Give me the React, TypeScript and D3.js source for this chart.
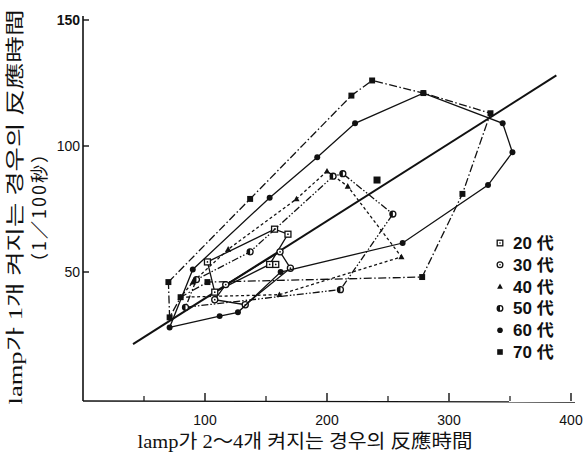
import React from 'react';
import * as d3 from 'd3';

const xTicksMajor = [100, 200, 300, 400];
const xTicksMinor = [50, 150, 250, 350];
const yTicks = [50, 100, 150];

const ages = ['20', '30', '40', '50', '60', '70'];
const ageSuffix = '代';

// 20代
const x20 = [108, 153, 168, 157, 102];
const y20 = [42, 53, 65, 67, 54];
// 30代
const x30 = [117, 161.5, 170, 133, 108];
const y30 = [45, 58, 51.5, 37, 39];
// 40代
const x40 = [80, 161, 261, 217, 200, 175, 119, 90];
const y40 = [40, 41, 56, 84, 90, 79, 59, 46];
// 50代
const x50 = [84, 211, 254, 213, 205, 137, 93];
const y50 = [36, 43, 73, 89, 88, 58, 47];
// 60代
const x60 = [71, 112, 127, 162, 262, 332, 352, 344, 279, 223, 192, 153, 90];
const y60 = [28, 32.5, 34, 50, 61.5, 84.5, 97.5, 109, 121, 109, 95.5, 79.5, 51];
// 70代
const x70 = [70, 137, 220, 237, 279, 334, 311, 278, 102, 80, 71];
const y70 = [46, 79, 120, 126, 121, 113, 81, 48, 46, 40, 32];
// isolated 70代 point and extra 20代 point
const isoX = [241];
const isoY = [86.5];
const extra20X = [158];
const extra20Y = [53];

// overall trend line
const regX = [41, 388];
const regY = [21.4, 128];

const seriesX = [x20, x30, x40, x50, x60, x70];
const seriesY = [y20, y30, y40, y50, y60, y70];
const markerKinds = ['sqDot', 'circDot', 'tri', 'half', 'circ', 'sq'];
const dashes = ['', '', '3,2.5', '7,2,1.5,2,1.5,2', '', '8,2.5,1.5,2.5'];

function Marker({ kind, cx, cy, s = 1 }: { kind: string; cx: number; cy: number; s?: number }) {
  const k = s;
  switch (kind) {
    case 'sqDot':
      return (
        <g>
          <rect x={cx - 3.5 * k} y={cy - 3.5 * k} width={7 * k} height={7 * k} fill="#fff" stroke="#111" strokeWidth={1.3} />
          <circle cx={cx} cy={cy} r={1 * k} fill="#111" />
        </g>
      );
    case 'circDot':
      return (
        <g>
          <circle cx={cx} cy={cy} r={3.6 * k} fill="#fff" stroke="#111" strokeWidth={1.3} />
          <circle cx={cx} cy={cy} r={1 * k} fill="#111" />
        </g>
      );
    case 'tri':
      return <path d={`M${cx},${cy - 3.8 * k}L${cx + 3.6 * k},${cy + 2.8 * k}L${cx - 3.6 * k},${cy + 2.8 * k}Z`} fill="#111" />;
    case 'half':
      return (
        <g>
          <circle cx={cx} cy={cy} r={3.5 * k} fill="#fff" stroke="#111" strokeWidth={1.3} />
          <path d={`M${cx},${cy - 3.5 * k}A${3.5 * k},${3.5 * k} 0 0 0 ${cx},${cy + 3.5 * k}Z`} fill="#111" />
        </g>
      );
    case 'circ':
      return <circle cx={cx} cy={cy} r={3.5 * k} fill="#111" />;
    default:
      return <rect x={cx - 3.5 * k} y={cy - 3.5 * k} width={7 * k} height={7 * k} fill="#111" />;
  }
}

export default function App() {
  const x = d3.scaleLinear().domain([0, 400]).range([83, 571]);
  const y = d3.scaleLinear().domain([0, 150]).range([398, 20]);
  const closed = d3
    .line<[number, number]>()
    .x((d) => x(d[0]))
    .y((d) => y(d[1]))
    .curve(d3.curveLinearClosed);
  const open = d3
    .line<[number, number]>()
    .x((d) => x(d[0]))
    .y((d) => y(d[1]));

  const serif = "'Liberation Serif', 'DejaVu Serif', 'Noto Sans CJK KR', serif";
  const sans = "'Liberation Sans Narrow', 'Liberation Sans', 'Noto Sans CJK JP', sans-serif";

  const legendY0 = 243;
  const legendStep = 21.8;

  return (
    <svg width={587} height={465} style={{ position: 'absolute', left: 0, top: 0, background: '#fff' }}>
      <rect width={587} height={465} fill="#fff" />
      {/* axes */}
      <line x1={83} y1={16} x2={83} y2={401} stroke="#111" strokeWidth={1.6} />
      <line x1={83} y1={401} x2={575} y2={402} stroke="#111" strokeWidth={1.4} />
      {yTicks.map((t) => (
        <g key={'yt' + t}>
          <line x1={83} x2={89} y1={y(t)} y2={y(t)} stroke="#111" strokeWidth={1.4} />
          <text x={80} y={y(t) + 5} textAnchor="end" fontFamily={sans} fontSize={14} fontWeight={t === 150 ? 700 : 400} fill="#111">
            {t}
          </text>
        </g>
      ))}
      {xTicksMajor.map((t) => (
        <g key={'xt' + t}>
          <line x1={x(t)} x2={x(t)} y1={401} y2={393} stroke="#111" strokeWidth={1.4} />
          <text x={x(t)} y={425} textAnchor="middle" fontFamily={sans} fontSize={14} fill="#111">
            {t}
          </text>
        </g>
      ))}
      {xTicksMinor.map((t) => (
        <line key={'xm' + t} x1={x(t)} x2={x(t)} y1={401} y2={396} stroke="#111" strokeWidth={1.2} />
      ))}

      {/* trend line */}
      <path
        d={open(regX.map((v, i) => [v, regY[i]] as [number, number])) || ''}
        stroke="#111"
        strokeWidth={2}
        fill="none"
      />

      {/* age group loops */}
      {seriesX.map((xs, si) => {
        const pts = xs.map((v, i) => [v, seriesY[si][i]] as [number, number]);
        return (
          <g key={'s' + si}>
            <path
              d={closed(pts) || ''}
              fill="none"
              stroke="#111"
              strokeWidth={1.3}
              strokeDasharray={dashes[si] || undefined}
            />
            {pts.map((p, i) => (
              <Marker key={i} kind={markerKinds[si]} cx={x(p[0])} cy={y(p[1])} s={0.85} />
            ))}
          </g>
        );
      })}
      {isoX.map((v, i) => (
        <Marker key={'iso' + i} kind="sq" cx={x(v)} cy={y(isoY[i])} s={1} />
      ))}
      {extra20X.map((v, i) => (
        <Marker key={'e20' + i} kind="sqDot" cx={x(v)} cy={y(extra20Y[i])} s={0.85} />
      ))}

      {/* legend */}
      {ages.map((a, i) => (
        <g key={'lg' + a}>
          <Marker kind={markerKinds[i]} cx={500} cy={legendY0 + i * legendStep} s={0.8} />
          <text x={513} y={legendY0 + i * legendStep + 6} fontFamily={sans} fontSize={17} fontWeight={700} fill="#111">
            {a} {ageSuffix}
          </text>
        </g>
      ))}

      {/* axis titles */}
      <text x={305} y={448} textAnchor="middle" fontFamily={serif} fontSize={19} fill="#111" textLength={335} lengthAdjust="spacingAndGlyphs">
        lamp가  2～4개  켜지는  경우의  反應時間
      </text>
      <g transform="translate(22,207) rotate(-90)">
        <text x={0} y={0} textAnchor="middle" fontFamily={serif} fontSize={19} fill="#111" textLength={395} lengthAdjust="spacingAndGlyphs">
          lamp가  1개  켜지는  경우의  反應時間
        </text>
      </g>
      <g transform="translate(46,207) rotate(-90)">
        <text x={0} y={0} textAnchor="middle" fontFamily="'Noto Sans CJK JP', sans-serif" fontSize={18} letterSpacing={2} fill="#111">
          （1／100秒）
        </text>
      </g>
    </svg>
  );
}
